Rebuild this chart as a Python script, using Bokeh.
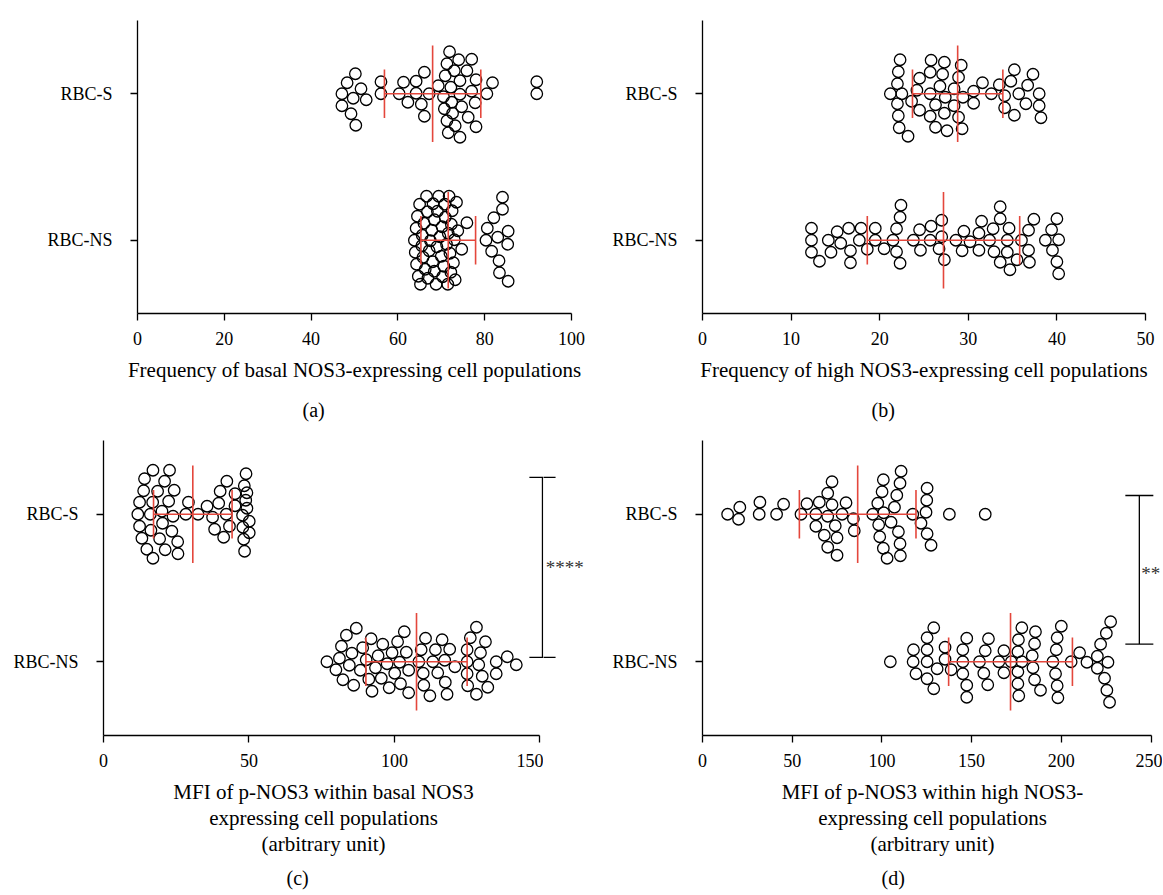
import math
from bokeh.plotting import figure
from bokeh.models import FixedTicker, Label, ColumnDataSource, Title
from bokeh.layouts import row, column
from bokeh.embed import file_html
from bokeh.resources import INLINE

# ---------------- data ----------------
categories = ["RBC-NS", "RBC-S"]          # y = 0, 1

# (a) Frequency of basal NOS3-expressing cell populations
a_s = [50.2, 49.2, 47.1, 51.5, 47.1, 52.7, 48.3, 49.7, 50.3, 56.1, 56.1,
       60.3, 62.3, 64.2, 66.1, 65.4, 67.2, 61.3, 66.1, 64.2, 69.3,
       74.3, 74.3, 73.2, 72.6, 72.2, 71.6, 71.3, 70.7, 70.5, 70.9, 71.3, 71.9,
       72.4, 73.0, 74.0, 74.3,
       78.0, 77.8, 77.0, 75.9, 74.7, 76.2, 77.0, 78.0, 80.5, 81.8, 92.0, 92.0]
a_ns = [63.8, 64.0, 64.2, 64.3, 64.5, 64.7, 65.0, 65.2, 65.5, 65.6, 65.8,
        66.0, 66.3, 66.6, 66.8, 66.9, 67.2, 67.5, 67.8, 68.1, 68.4,
        68.0, 68.4, 68.8, 69.0, 69.1, 69.4, 69.7, 70.0, 70.2, 70.3, 70.6,
        70.8, 70.9, 71.2, 71.5, 71.8,
        71.6, 72.0, 72.2, 72.3, 72.5, 72.8, 73.0, 73.2, 73.5, 73.8, 74.7, 75.9,
        84.1, 83.3, 83.0, 85.4, 81.6, 80.3, 85.3, 80.6, 82.1, 85.4, 83.4, 84.1]
a_mean = [71.6, 68.0]   # NS, S
a_sd = [6.3, 11.1]

# (b) Frequency of high NOS3-expressing cell populations
b_s = [22.5, 22.2, 22.1, 22.0, 21.2, 22.0, 22.1, 22.3, 23.2, 24.5, 23.6,
       24.2, 24.5, 25.8, 25.7, 25.7, 25.7, 26.3, 27.1, 27.3, 27.6, 27.4,
       26.3, 26.8, 27.3, 28.4, 28.4, 29.3, 29.2, 28.9, 28.9, 29.4, 30.6,
       30.6, 31.6, 32.6, 33.5, 34.1, 34.1, 35.2, 34.8, 35.2, 35.7, 36.5,
       36.7, 37.3, 38.0, 38.0, 38.2]
b_ns = [13.2, 12.3, 12.3, 12.3, 14.2, 15.6, 14.5, 15.2, 16.7, 16.7, 16.5,
        17.7, 17.9, 18.6, 19.5, 19.5, 20.5, 21.5, 21.9, 22.3, 22.4, 21.9,
        22.3, 23.8, 24.6, 24.5, 25.7, 25.8, 26.7, 27.0, 27.0, 27.3, 28.6,
        29.5, 29.3, 30.2, 31.2, 31.2, 31.5, 32.4, 32.9, 32.8, 33.6, 33.6,
        33.6, 34.4, 34.7, 34.4, 34.6, 35.5, 36.0, 36.8, 36.9, 36.8, 37.4,
        38.7, 39.4, 39.5, 40.0, 40.2, 40.0, 40.2]
b_mean = [27.2, 28.8]
b_sd = [8.6, 5.1]

# (c) MFI of p-NOS3 within basal NOS3 expressing cell populations
c_s = [16.9, 16.1, 14.1, 13.2, 12.4, 11.8, 12.4, 13.8, 14.9, 16.3, 17.0, 17.0,
       24.3, 23.5, 22.4, 21.0, 20.3, 18.6, 19.3, 20.1, 21.2, 22.7, 23.9,
       25.6, 25.5, 29.2, 32.5, 28.3, 37.5, 35.6, 38.2, 40.1, 39.6, 41.3,
       42.4, 42.2, 43.3, 45.2, 45.2,
       50.1, 49.3, 48.9, 48.5, 48.2, 47.8, 47.9, 48.4, 49.0, 49.3, 50.1]
c_ns = [76.8, 81.8, 79.9, 83.5, 81.1, 82.3, 89.1, 86.9, 85.4, 84.5, 86.0, 88.3,
        92.3, 91.2, 90.3, 92.0, 93.5, 95.5, 96.0, 94.4, 97.5, 99.2, 98.2,
        100.1, 101.8, 103.4, 102.1, 101.1, 104.9, 104.1, 104.9, 108.4, 109.9,
        110.7, 112.2, 109.2, 110.1, 113.2, 114.9, 117.3, 117.5, 118.1, 114.1,
        116.4, 119.0, 120.8,
        131.3, 129.6, 128.2, 126.1, 125.0, 125.0, 125.0, 125.2, 128.2, 129.0,
        130.2, 135.0, 138.8, 132.1, 141.9, 135.0]
c_mean = [107.6, 30.7]
c_sd = [17.4, 13.5]
c_sig = "****"

# (d) MFI of p-NOS3 within high NOS3-expressing cell populations
d_s = [14.0, 20.1, 20.8, 31.6, 32.0, 41.3, 45.2, 54.9, 58.2, 63.2, 63.2, 65.1,
       67.9, 69.8, 69.8, 69.8, 72.2, 72.2, 74.0, 75.0, 75.0, 77.8, 80.0, 84.6,
       84.1, 94.9, 97.7, 98.2, 98.8, 100.1, 100.8, 100.8, 101.0, 102.9, 105.1,
       107.0, 108.3, 109.2, 110.1, 110.3, 110.1, 110.7, 117.2, 121.8, 125.0,
       125.2, 127.4, 124.6, 125.2, 137.6, 157.6]
d_ns = [104.7, 117.4, 117.6, 119.0, 125.2, 125.2, 125.2, 125.2, 128.9, 128.9,
        130.8, 135.2, 135.2, 138.6, 145.1, 145.1, 145.1, 147.3, 147.3, 147.3,
        154.4, 159.0, 157.6, 156.8, 159.4, 165.2, 168.0, 168.0, 172.1, 176.1,
        175.8, 178.0, 178.0, 175.8, 175.8, 176.3, 185.1, 183.8, 184.2, 185.1,
        185.6, 188.4, 198.1, 197.7, 196.8, 200.0, 195.3, 197.2, 197.7, 205.5,
        210.2, 214.3, 220.1, 225.4, 224.1, 221.9, 225.1, 227.5, 220.1, 226.0,
        226.9]
d_mean = [171.7, 86.5]
d_sd = [34.5, 32.5]
d_sig = "**"

# ---------------- style ----------------
FONT = "Liberation Serif"
RED = "#e4473c"
TICK_SIZE = "18px"
LABEL_SIZE = "21px"
LETTER_SIZE = "20px"


def swarm(vals, sx, sy, diam=12.0, maxw=44.0):
    """Beeswarm offsets (in y units) computed in pixel space."""
    order = sorted(range(len(vals)), key=lambda i: vals[i])
    placed = []
    offs = [0.0] * len(vals)
    steps = [k * 0.5 for k in range(1, int(maxw * 2) + 1)]
    for j, i in enumerate(order):
        x = vals[i] * sx
        near = [(px, py) for px, py in placed if abs(px - x) < diam]
        sgn = 1 if j % 2 == 0 else -1
        cands = [0.0]
        for s in steps:
            cands += [sgn * s, -sgn * s]
        chosen = None
        best, bestc = -1.0, 0.0
        for c in cands:
            md = min((math.hypot(px - x, py - c) for px, py in near), default=1e9)
            if md >= diam:
                chosen = c
                break
            if md > best + 1e-9:
                best, bestc = md, c
        if chosen is None:
            chosen = bestc
        placed.append((x, chosen))
        offs[i] = chosen / sy
    return offs


def panel(s_vals, ns_vals, mean, sd, xmax, axis_max, ticks, bl, fw, br, bt, fh, bb,
          xlabel, letter, letter_offset, letter_standoff):
    p = figure(width=bl + fw + br, height=bt + fh + bb,
               x_range=(0, xmax), y_range=(-0.5, 1.5),
               output_backend="svg", toolbar_location=None,
               min_border_left=bl, min_border_right=br,
               min_border_top=bt, min_border_bottom=bb)
    p.outline_line_color = None
    p.xgrid.visible = False
    p.ygrid.visible = False
    p.background_fill_color = "white"
    p.border_fill_color = "white"

    sx = fw / xmax
    sy = fh / 2.0
    for gi, vals in ((1, s_vals), (0, ns_vals)):
        offs = swarm(vals, sx, sy)
        src = ColumnDataSource(dict(x=vals, y=[gi + o for o in offs]))
        p.scatter("x", "y", source=src, marker="circle", size=11.5,
                  fill_color=None, line_color="black", line_width=1.3)

    # mean +/- SD in red
    ys = [0, 1]
    lows = [m - s for m, s in zip(mean, sd)]
    highs = [m + s for m, s in zip(mean, sd)]
    p.segment(x0=lows, x1=highs, y0=ys, y1=ys, line_color=RED, line_width=1.6)
    p.segment(x0=mean, x1=mean, y0=[y - 0.33 for y in ys], y1=[y + 0.33 for y in ys],
              line_color=RED, line_width=1.6)
    p.segment(x0=lows + highs, x1=lows + highs,
              y0=[y - 0.165 for y in ys] * 2, y1=[y + 0.165 for y in ys] * 2,
              line_color=RED, line_width=1.6)

    xa = p.xaxis[0]
    xa.ticker = FixedTicker(ticks=ticks)
    xa.bounds = (0, axis_max)
    xa.minor_tick_line_color = None
    xa.major_tick_in = 0
    xa.major_tick_out = 7
    xa.axis_line_width = 1.3
    xa.major_tick_line_width = 1.3
    xa.major_label_text_font = FONT
    xa.major_label_text_font_size = TICK_SIZE
    xa.major_label_text_color = "black"
    xa.major_label_standoff = 11
    xa.axis_label = xlabel
    xa.axis_label_text_font = FONT
    xa.axis_label_text_font_size = LABEL_SIZE
    xa.axis_label_text_font_style = "normal"
    xa.axis_label_text_color = "black"
    xa.axis_label_text_line_height = 1.1
    xa.axis_label_standoff = 10

    ya = p.yaxis[0]
    ya.ticker = FixedTicker(ticks=[0, 1])
    ya.major_label_overrides = {0: categories[0], 1: categories[1]}
    ya.minor_tick_line_color = None
    ya.major_tick_in = 0
    ya.major_tick_out = 7
    ya.axis_line_width = 1.3
    ya.major_tick_line_width = 1.3
    ya.major_label_text_font = FONT
    ya.major_label_text_font_size = TICK_SIZE
    ya.major_label_text_color = "black"
    ya.major_label_standoff = 18

    p.add_layout(Title(text=letter, align="left", offset=letter_offset,
                       standoff=letter_standoff,
                       text_font=FONT, text_font_size=LETTER_SIZE,
                       text_font_style="normal", text_color="black"), "below")
    return p


def add_bracket(p, x, half, y0, y1, sig, text_x, text_y):
    p.segment(x0=[x, x - half, x - half], x1=[x, x + half, x + half],
              y0=[y0, y0, y1], y1=[y1, y0, y1], line_color="black", line_width=1.3)
    if sig:
        p.add_layout(Label(x=text_x, y=text_y, x_units="data", y_units="data", text=sig,
                           text_font=FONT, text_font_size="19px", text_color="#333333",
                           text_align="left", text_baseline="middle"))


# top row
pa = panel(a_s, a_ns, a_mean, a_sd, 100, 100, [0, 20, 40, 60, 80, 100],
           bl=137, fw=434, br=29, bt=20, fh=293, bb=121,
           xlabel="Frequency of basal NOS3-expressing cell populations",
           letter="(a)", letter_offset=165, letter_standoff=24)

pb = panel(b_s, b_ns, b_mean, b_sd, 50, 50, [0, 10, 20, 30, 40, 50],
           bl=102, fw=443, br=17, bt=20, fh=293, bb=121,
           xlabel="Frequency of high NOS3-expressing cell populations",
           letter="(b)", letter_offset=169, letter_standoff=24)

# bottom row
C_SCALE = 2.909          # px per unit in panel (c)
C_FW = 440
pc = panel(c_s, c_ns, c_mean, c_sd, C_FW / C_SCALE, 150, [0, 50, 100, 150],
           bl=103, fw=C_FW, br=0, bt=6, fh=295, bb=159,
           xlabel="MFI of p-NOS3 within basal NOS3\nexpressing cell populations\n(arbitrary unit)",
           letter="(c)", letter_offset=183, letter_standoff=10)
C_BRACKET = dict(x=150.9, half=4.5, y0=0.03, y1=1.25)
add_bracket(pc, sig=None, text_x=None, text_y=None, **C_BRACKET)

# strip to the right of (c) carrying the rest of its significance bracket
SIDE_W = 57
ps = figure(width=SIDE_W, height=6 + 295 + 159,
            x_range=(C_FW / C_SCALE, (C_FW + SIDE_W) / C_SCALE), y_range=(-0.5, 1.5),
            output_backend="svg", toolbar_location=None,
            x_axis_location=None, y_axis_location=None,
            min_border_left=0, min_border_right=0, min_border_top=6, min_border_bottom=159)
ps.outline_line_color = None
ps.xgrid.visible = False
ps.ygrid.visible = False
add_bracket(ps, sig=c_sig, text_x=152.0, text_y=0.64, **C_BRACKET)

pd = panel(d_s, d_ns, d_mean, d_sd, 460 / 1.794, 250, [0, 50, 100, 150, 200, 250],
           bl=102, fw=460, br=0, bt=6, fh=295, bb=159,
           xlabel="MFI of p-NOS3 within high NOS3-\nexpressing cell populations\n(arbitrary unit)",
           letter="(d)", letter_offset=179, letter_standoff=10)
add_bracket(pd, 243.5, 7.8, 0.12, 1.127, d_sig, 244.5, 0.6)

layout = column(row(pa, pb), row(pc, ps, pd))
open("out.html", "w").write(file_html(layout, INLINE))
